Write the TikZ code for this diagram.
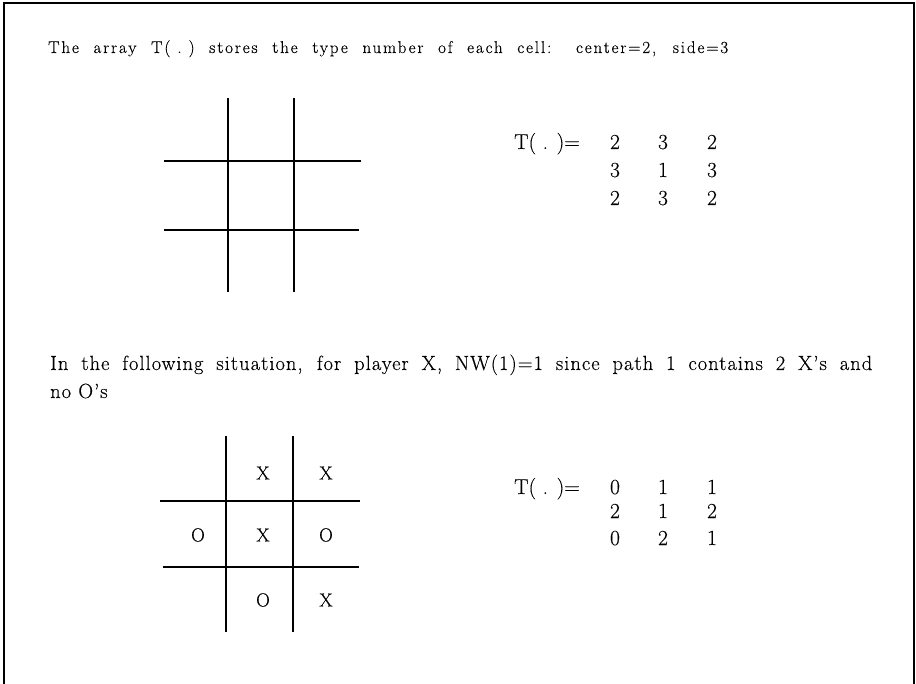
\documentclass[tikz,border=0pt]{standalone}
\usepackage{fontspec}
\newfontfamily\lsA[LetterSpace=11,Ligatures=TeX,FakeBold=0.3]{Latin Modern Roman}
\newfontfamily\lsB[LetterSpace=5,Ligatures=TeX,FakeBold=0.3]{Latin Modern Roman}
\newfontfamily\lsC[Ligatures=TeX,FakeBold=0.3]{Latin Modern Roman}
\begin{document}
\begin{tikzpicture}[x=1pt,y=-1pt,
  frame/.style={line width=2pt,black},
  gridline/.style={line width=1.8pt,black},
  txtA/.style={anchor=base west,inner sep=0pt,font=\lsA\fontsize{17}{20}\selectfont},
  txtB/.style={anchor=base west,inner sep=0pt,font=\lsB\fontsize{20.5}{24}\selectfont},
  num/.style={anchor=base,inner sep=0pt,font=\lsC\fontsize{21.5}{25}\selectfont},
  xo/.style={inner sep=0pt,font=\lsC\fontsize{19}{23}\selectfont}]
\useasboundingbox (0,0) rectangle (916,684);
% frame
\coordinate (f1) at (4,684);
\coordinate (f2) at (4,3);
\coordinate (f3) at (914,3);
\coordinate (f4) at (914,684);
\draw[frame] (f1) -- (f2) -- (f3) -- (f4);
% text
\node[txtA] (t1) at (48,53) {\makebox[680pt][s]{The array \hbox{T(\kern7pt.\kern7pt)} stores the type number of each cell: center=2, side=3}};
\node[txtB] (t2) at (50,370) {\makebox[822pt][s]{In the following situation, for player X, NW(1)=1 since path 1 contains 2 X’s and}};
\node[txtB] (t3) at (50,398) {no O’s};
% grid 1
\coordinate (a1) at (228,98); \coordinate (a2) at (228,292);
\coordinate (b1) at (294,98); \coordinate (b2) at (294,292);
\coordinate (c1) at (164,161); \coordinate (c2) at (361,161);
\coordinate (d1) at (164,230); \coordinate (d2) at (359,230);
\draw[gridline] (a1) -- (a2); \draw[gridline] (b1) -- (b2);
\draw[gridline] (c1) -- (c2); \draw[gridline] (d1) -- (d2);
% matrix 1
\node[num,anchor=base west] (m1) at (514,149) {T( . )=};
\node[num] (m11) at (615,149) {2}; \node[num] (m12) at (663,149) {3}; \node[num] (m13) at (712,149) {2};
\node[num] (m21) at (615,177) {3}; \node[num] (m22) at (663,177) {1}; \node[num] (m23) at (712,177) {3};
\node[num] (m31) at (615,205) {2}; \node[num] (m32) at (663,205) {3}; \node[num] (m33) at (712,205) {2};
% grid 2
\coordinate (e1) at (226,436); \coordinate (e2) at (226,632);
\coordinate (g1) at (293,436); \coordinate (g2) at (293,632);
\coordinate (h1) at (160,501); \coordinate (h2) at (360,501);
\coordinate (k1) at (163,567); \coordinate (k2) at (359,567);
\draw[gridline] (e1) -- (e2); \draw[gridline] (g1) -- (g2);
\draw[gridline] (h1) -- (h2); \draw[gridline] (k1) -- (k2);
\node[xo] (x12) at (263,473) {X}; \node[xo] (x13) at (326,473) {X};
\node[xo] (o21) at (198,535) {O}; \node[xo] (x22) at (263,535) {X}; \node[xo] (o23) at (326,535) {O};
\node[xo] (o32) at (263,600) {O}; \node[xo] (x33) at (326,600) {X};
% matrix 2
\node[num,anchor=base west] (n1) at (514,494) {T( . )=};
\node[num] (n11) at (615,494) {0}; \node[num] (n12) at (663,494) {1}; \node[num] (n13) at (712,494) {1};
\node[num] (n21) at (615,518) {2}; \node[num] (n22) at (663,518) {1}; \node[num] (n23) at (712,518) {2};
\node[num] (n31) at (615,545) {0}; \node[num] (n32) at (663,545) {2}; \node[num] (n33) at (712,545) {1};
\end{tikzpicture}
\end{document}
